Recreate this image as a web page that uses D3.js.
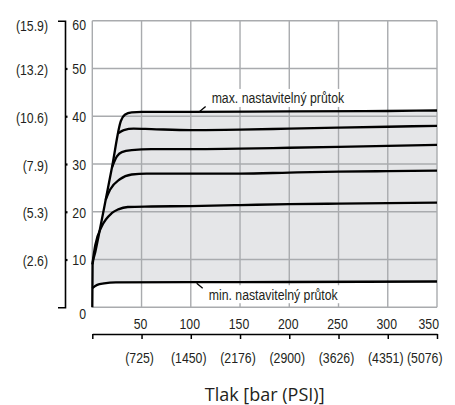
<!DOCTYPE html>
<html>
<head>
<meta charset="utf-8">
<script src="https://cdn.jsdelivr.net/npm/d3@7"></script>
<style>
  body { margin: 0; background: #fff; }
  svg { display: block; }
  .tick-label { font-family: "Liberation Sans", Arial, sans-serif; font-size: 15px; fill: #231f20; }
  .axis-title { font-family: "Open Sans", sans-serif; font-size: 18px; fill: #231f20; }
</style>
</head>
<body>
<svg id="chart" width="455" height="405"></svg>
<script>
'use strict';

// flow ticks (left) with their bracketed equivalents
var flowTicks = [0, 10, 20, 30, 40, 50, 60];
var flowAltLabels = ['', '(2.6)', '(5.3)', '(7.9)', '(10.6)', '(13.2)', '(15.9)'];

// pressure ticks (bottom) with PSI equivalents
var barTicks = [0, 50, 100, 150, 200, 250, 300, 350];
var psiLabels = ['', '(725)', '(1450)', '(2176)', '(2900)', '(3626)', '(4351)', '(5076)'];

var xTitle = 'Tlak [bar (PSI)]';

// curves: [bar, flow]
var maxCurve = [[0, 0], [0.3, 9], [3, 11.5], [6, 14.5], [13.6, 22.5], [20, 29.3], [29, 39], [33, 40.3],
  [40, 40.8], [50, 40.9], [100, 40.9], [200, 41.0], [300, 41.1], [350, 41.2]];
var curve37 = [[26.7, 36.5], [32, 37.1], [42, 37.4], [60, 37.3], [100, 37.1], [150, 37.2], [200, 37.4],
  [250, 37.6], [300, 37.8], [350, 38.0]];
var curve33 = [[20, 29.3], [25, 31.6], [30, 32.5], [40, 32.9], [60, 33.1], [100, 33.1], [150, 33.2],
  [200, 33.4], [250, 33.6], [300, 33.8], [350, 34.0]];
var curve28 = [[13.6, 22.5], [18, 24.6], [28, 26.8], [40, 27.8], [55, 28.0], [100, 28.0], [150, 28.0],
  [200, 28.2], [250, 28.4], [300, 28.5], [350, 28.6]];
var curve21 = [[0, 9], [3, 13], [9.5, 16.9], [19.7, 19.7], [26.4, 20.5], [36, 21.0], [60, 21.1],
  [100, 21.2], [150, 21.4], [200, 21.6], [250, 21.7], [300, 21.8], [350, 21.9]];
var minCurve = [[0, 4.0], [5, 4.7], [12, 5.0], [24, 5.2], [100, 5.25], [200, 5.3], [350, 5.4]];

// annotations: text, point on curve [bar, flow]
var notes = [
  { text: 'max. nastavitelný průtok', at: [110, 40.9], up: true },
  { text: 'min. nastavitelný průtok', at: [107, 5.25], up: false }
];

// horizontal squeeze that turns the regular face into a narrow one
var K = 0.82;

var svg = d3.select('#chart');

var x = d3.scaleLinear().domain([0, 350]).range([92.3, 437]);
var y = d3.scaleLinear().domain([0, 60]).range([307.3, 20.7]);

var line = d3.line()
  .x(function(d) { return x(d[0]); })
  .y(function(d) { return y(d[1]); })
  .curve(d3.curveMonotoneX);

function areaUnder(data) {
  return d3.area()
    .x(function(d) { return x(d[0]); })
    .y0(y(0))
    .y1(function(d) { return y(d[1]); })
    .curve(d3.curveMonotoneX)(data);
}

function narrow(sel) {
  sel.each(function() {
    var t = d3.select(this);
    var xv = +t.attr('x') || 0, dxv = +t.attr('dx') || 0;
    t.attr('x', xv / K).attr('dx', dxv / K).attr('transform', 'scale(' + K + ',1)');
  });
}

// range fill: grey under max, white under min
svg.append('path').attr('d', areaUnder(maxCurve)).attr('fill', '#e5e6e8');
svg.append('path').attr('d', areaUnder(minCurve)).attr('fill', '#fff');

// grid
var grid = svg.append('g').attr('stroke', '#a9abae').attr('stroke-width', 1.4);
grid.selectAll('line.v').data(barTicks).enter().append('line')
  .attr('x1', function(d) { return x(d); }).attr('x2', function(d) { return x(d); })
  .attr('y1', y(0)).attr('y2', y(60));
grid.selectAll('line.h').data(flowTicks).enter().append('line')
  .attr('y1', function(d) { return y(d); }).attr('y2', function(d) { return y(d); })
  .attr('x1', x(0)).attr('x2', x(350));

// white boxes behind the annotation text
notes.forEach(function(n) {
  var bx = x(n.at[0]) + 9;
  var by = n.up ? y(n.at[1]) - 23 : y(n.at[1]) + 3;
  svg.append('rect').attr('x', bx - 2).attr('y', by).attr('width', 142).attr('height', 18).attr('fill', '#fff');
});

// curves
var curves = svg.append('g').attr('fill', 'none').attr('stroke', '#000').attr('stroke-width', 2.3)
  .attr('stroke-linejoin', 'round');
[minCurve, curve21, curve28, curve33, curve37, maxCurve].forEach(function(c) {
  curves.append('path').attr('d', line(c));
});

// annotations
notes.forEach(function(n) {
  var px = x(n.at[0]), py = y(n.at[1]);
  var g = svg.append('g');
  g.append('line')
    .attr('x1', px - 1).attr('y1', n.up ? py - 0.5 : py + 1)
    .attr('x2', px + 5).attr('y2', n.up ? py - 5.5 : py + 6)
    .attr('stroke', '#000').attr('stroke-width', 1.3);
  g.append('text').attr('class', 'tick-label')
    .attr('x', px + 11).attr('y', n.up ? py - 8.5 : py + 18)
    .text(n.text)
    .call(narrow);
});

// left axis: bracket with ticks and bracketed values
var yAxisG = svg.append('g').attr('transform', 'translate(65,0)')
  .call(d3.axisLeft(y).tickValues(flowTicks).tickSize(7).tickSizeOuter(7).tickPadding(10)
    .tickFormat(function(d, i) { return flowAltLabels[i]; }));
yAxisG.select('.domain').attr('stroke', '#000').attr('stroke-width', 1.6);
yAxisG.selectAll('.tick line').attr('stroke', '#000').attr('stroke-width', 2.2)
  .attr('x2', function(d) { return (d > 0 && d < 60) ? 2.5 : 0; });
yAxisG.selectAll('.tick text').attr('class', 'tick-label').attr('font-family', null).attr('font-size', null)
  .attr('dy', function(d) { return d === 60 ? '0.62em' : '0.4em'; })
  .call(narrow);

var yNumG = svg.append('g').attr('transform', 'translate(65,0)')
  .call(d3.axisRight(y).tickValues(flowTicks).tickSize(0).tickPadding(0));
yNumG.select('.domain').remove();
yNumG.selectAll('.tick text').attr('class', 'tick-label').attr('font-family', null).attr('font-size', null)
  .attr('x', 21).attr('text-anchor', 'end')
  .attr('dy', function(d) { return d === 0 ? '0.75em' : d === 60 ? '0.6em' : '0.36em'; })
  .call(narrow);

// bottom axis: bar values above the line, PSI below
var xTop = svg.append('g').attr('transform', 'translate(0,334)')
  .call(d3.axisTop(x).tickValues(barTicks.slice(1)).tickSize(0).tickPadding(5.5));
xTop.select('.domain').remove();
xTop.selectAll('.tick text').attr('class', 'tick-label').attr('font-family', null).attr('font-size', null)
  .attr('dx', function(d) { return d === 350 ? 1.5 : -1.5; })
  .attr('text-anchor', function(d) { return d === 350 ? 'end' : 'middle'; })
  .call(narrow);

var xBottom = svg.append('g').attr('transform', 'translate(0,334)')
  .call(d3.axisBottom(x).tickValues(barTicks).tickSize(5).tickSizeOuter(0).tickPadding(13.5)
    .tickFormat(function(d, i) { return psiLabels[i]; }));
xBottom.select('.domain').attr('stroke', '#000').attr('stroke-width', 1.3);
xBottom.selectAll('.tick line').attr('stroke', '#000').attr('stroke-width', 1.5);
xBottom.selectAll('.tick text').attr('class', 'tick-label').attr('font-family', null).attr('font-size', null)
  .attr('dx', function(d) { return d === 350 ? 5 : -2.5; })
  .attr('text-anchor', function(d) { return d === 350 ? 'end' : 'middle'; })
  .call(narrow);

svg.append('text').attr('class', 'axis-title')
  .attr('x', (x(0) + x(350)) / 2).attr('y', 401)
  .attr('text-anchor', 'middle')
  .text(xTitle);
</script>
</body>
</html>
